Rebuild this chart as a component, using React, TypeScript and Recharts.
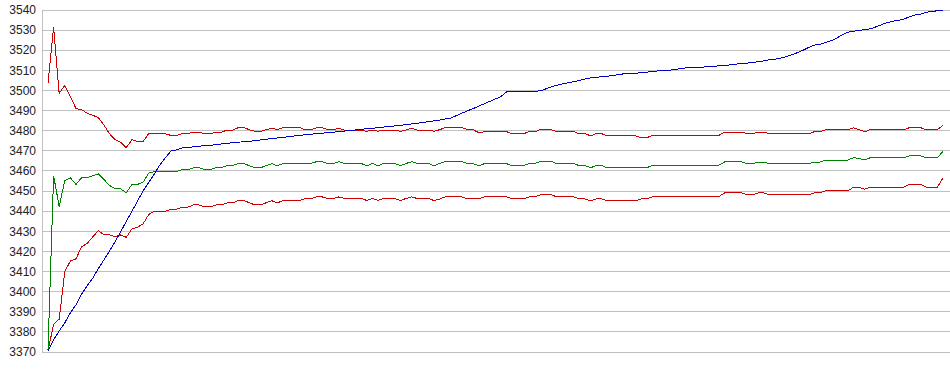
import { LineChart, Line, XAxis, YAxis, CartesianGrid } from "recharts";

// one sample every step, 161 samples
const upperBand = [
  3503.5, 3531.5, 3498.5, 3502.6, 3497, 3491, 3490.5, 3488.7, 3487.7, 3486.5,
  3482.8, 3478.5, 3475.5, 3474.3, 3471.6, 3475.5, 3474.7, 3474.7, 3478.5, 3478.5,
  3478.5, 3478.5, 3477.6, 3477.6, 3478.5, 3478.5, 3479.3, 3479.3, 3478.5, 3478.5,
  3479.3, 3479.3, 3480.3, 3480.3, 3481.5, 3481.5, 3480.5, 3479.7, 3479.7, 3480.5,
  3481.3, 3480.5, 3481.5, 3481.5, 3481.5, 3481.5, 3480.5, 3480.5, 3481.5, 3481.5,
  3480.5, 3480.5, 3481.3, 3480.3, 3480.3, 3480.3, 3480.3, 3479.7, 3480.3, 3479.7,
  3480.3, 3480.3, 3480.3, 3479.7, 3480.3, 3481.3, 3480.3, 3480.3, 3480.3, 3479.7,
  3480.5, 3481.5, 3481.5, 3481.5, 3481.5, 3480.5, 3480.5, 3479, 3479.5, 3479.5,
  3479.5, 3479.5, 3479.5, 3478.5, 3478.5, 3478.5, 3479.5, 3479.5, 3480.5, 3480.5,
  3480.5, 3479.5, 3479.5, 3479.5, 3479.5, 3478.5, 3478.5, 3477.5, 3478.5, 3478.5,
  3477.5, 3477.5, 3477.5, 3477.5, 3477.5, 3477.5, 3476.5, 3476.5, 3477.5, 3477.5,
  3477.5, 3477.5, 3477.5, 3477.5, 3477.5, 3477.5, 3477.5, 3477.5, 3477.5, 3477.5,
  3477.8, 3479.3, 3479.3, 3479.3, 3479.3, 3478.5, 3478.5, 3479.3, 3479.3, 3478.5,
  3478.5, 3478.5, 3478.5, 3478.5, 3478.5, 3478.5, 3478.5, 3479.5, 3479.5, 3480.5,
  3480.5, 3480.5, 3480.5, 3480.5, 3481.5, 3480.5, 3479.5, 3480.5, 3480.5, 3480.5,
  3480.5, 3480.5, 3480.5, 3480.5, 3481.5, 3481.5, 3481.5, 3480.5, 3480.5, 3480.5,
  3482.7,
];

const average = [
  3371, 3457.7, 3442.3, 3455.3, 3456.6, 3453.3, 3456.6, 3456.6, 3457.6, 3458.6,
  3455.7, 3452.8, 3451.1, 3451.1, 3449.1, 3453.3, 3453.3, 3454.4, 3458.9, 3459.7,
  3459.7, 3459.7, 3459.7, 3459.7, 3460.6, 3460.6, 3461.6, 3461.6, 3460.6, 3460.6,
  3461.6, 3461.6, 3462.6, 3462.6, 3463.7, 3463.7, 3462.6, 3461.6, 3461.6, 3462.6,
  3463.6, 3462.6, 3463.7, 3463.7, 3463.7, 3463.7, 3463.7, 3463.7, 3464.6, 3464.6,
  3463.7, 3463.7, 3464.6, 3463.7, 3463.7, 3463.7, 3463.7, 3462.6, 3463.7, 3462.6,
  3463.7, 3463.7, 3463.7, 3462.6, 3463.7, 3464.6, 3463.7, 3463.7, 3463.7, 3462.6,
  3463.7, 3464.7, 3464.7, 3464.7, 3464.7, 3463.6, 3463.6, 3462.6, 3463.6, 3463.6,
  3463.6, 3463.6, 3463.6, 3462.6, 3462.6, 3462.6, 3463.6, 3463.6, 3464.7, 3464.7,
  3464.7, 3463.6, 3463.6, 3463.6, 3463.6, 3462.6, 3462.6, 3461.6, 3462.6, 3462.6,
  3461.6, 3461.6, 3461.6, 3461.6, 3461.6, 3461.6, 3461.6, 3461.6, 3462.6, 3462.6,
  3462.6, 3462.6, 3462.6, 3462.6, 3462.6, 3462.6, 3462.6, 3462.6, 3462.6, 3462.6,
  3463, 3464.5, 3464.5, 3464.5, 3464.5, 3463.6, 3463.6, 3464.4, 3464.4, 3463.6,
  3463.6, 3463.6, 3463.6, 3463.6, 3463.6, 3463.6, 3463.6, 3464.4, 3464.4, 3465.4,
  3465.4, 3465.4, 3465.4, 3465.4, 3466.6, 3466.2, 3465.5, 3466.6, 3466.6, 3466.6,
  3466.6, 3466.6, 3466.6, 3466.6, 3467.5, 3467.5, 3467.5, 3466.6, 3466.6, 3466.6,
  3469.7,
];

const lowerBand = [
  3370.5, 3383.8, 3386.3, 3410, 3415.2, 3416.3, 3422.2, 3424, 3427.2, 3430.3,
  3428.2, 3428.2, 3427.3, 3428.2, 3427, 3431.2, 3432, 3433.7, 3438.3, 3440,
  3440, 3440, 3441, 3441, 3442, 3442, 3443.1, 3443.1, 3442.1, 3442.1,
  3443.1, 3443.1, 3444.1, 3444.1, 3445.3, 3445.3, 3444.2, 3443.1, 3443.1, 3444.2,
  3445.2, 3444.1, 3445.3, 3445.3, 3445.3, 3445.3, 3446.3, 3446.3, 3447.1, 3447.1,
  3446.3, 3446.3, 3447.1, 3446.3, 3446.3, 3446.3, 3446.3, 3445.3, 3446.3, 3445.3,
  3446.3, 3446.3, 3446.3, 3445.3, 3446.3, 3447.1, 3446.3, 3446.3, 3446.3, 3445.3,
  3446, 3447.1, 3447.1, 3447.1, 3447.1, 3446.1, 3446.1, 3446.1, 3447.1, 3447.1,
  3447.1, 3447.1, 3447.1, 3446.1, 3446.1, 3446.1, 3447.1, 3447.1, 3448.1, 3448.1,
  3448.1, 3447.1, 3447.1, 3447.1, 3447.1, 3446.1, 3446.1, 3445.1, 3446.1, 3446.1,
  3445.1, 3445.1, 3445.1, 3445.1, 3445.1, 3445.1, 3446.1, 3446.1, 3447.1, 3447.1,
  3447.1, 3447.1, 3447.1, 3447.1, 3447.1, 3447.1, 3447.1, 3447.1, 3447.1, 3447.1,
  3447.4, 3449.1, 3449.1, 3449.1, 3449.1, 3448.1, 3448.1, 3449.1, 3449.1, 3448.1,
  3448.1, 3448.1, 3448.1, 3448.1, 3448.1, 3448.1, 3448.1, 3449.1, 3449.1, 3450.1,
  3450.1, 3450.1, 3450.1, 3450.1, 3451.9, 3451.9, 3450.9, 3451.9, 3451.9, 3451.9,
  3451.9, 3451.9, 3451.9, 3451.9, 3453.3, 3453.3, 3453.3, 3451.9, 3451.9, 3451.9,
  3456.6,
];

const cumulative = [
  3370.5, 3376, 3380.5, 3384.5, 3389.5, 3393.4, 3398.7, 3403, 3406.7, 3411.4,
  3415.8, 3420.2, 3424.9, 3429.8, 3435, 3439.9, 3445, 3450.1, 3454.3, 3458.5,
  3463, 3466.6, 3469.9, 3470.5, 3471.4, 3471.7, 3472, 3472.3, 3472.6, 3472.8,
  3473, 3473.4, 3473.7, 3474.1, 3474.3, 3474.5, 3474.8, 3475, 3475.4, 3475.8,
  3476.1, 3476.4, 3476.7, 3477, 3477.4, 3477.7, 3478, 3478.3, 3478.5, 3478.8,
  3479, 3479.3, 3479.5, 3479.8, 3480.1, 3480.4, 3480.7, 3481, 3481.2, 3481.5,
  3481.8, 3482.1, 3482.4, 3482.7, 3483, 3483.4, 3483.7, 3484.1, 3484.5, 3484.9,
  3485.3, 3485.8, 3486.3, 3487.5, 3488.7, 3489.9, 3491, 3492.2, 3493.4, 3494.6,
  3495.8, 3497, 3499.3, 3499.6, 3499.6, 3499.6, 3499.6, 3499.6, 3499.8, 3500.8,
  3501.8, 3502.6, 3503.3, 3503.8, 3504.4, 3505, 3505.7, 3506.3, 3506.6, 3506.8,
  3507, 3507.5, 3507.9, 3508.3, 3508.5, 3508.6, 3508.8, 3509.1, 3509.5, 3509.7,
  3509.8, 3510, 3510.4, 3510.8, 3511.2, 3511.4, 3511.5, 3511.6, 3511.8, 3512,
  3512.3, 3512.5, 3512.7, 3513.1, 3513.4, 3513.6, 3513.9, 3514.4, 3514.7, 3515.3,
  3515.6, 3516.1, 3516.8, 3517.8, 3518.8, 3520, 3521.4, 3522.5, 3523, 3523.8,
  3524.7, 3526, 3527.7, 3528.9, 3529.5, 3529.8, 3530.3, 3530.6, 3531.6, 3532.7,
  3533.7, 3534.4, 3534.8, 3535.5, 3536.6, 3537.5, 3538, 3538.8, 3539.3, 3539.6,
  3540,
];

const yTicks = [
  3370, 3380, 3390, 3400, 3410, 3420, 3430, 3440, 3450,
  3460, 3470, 3480, 3490, 3500, 3510, 3520, 3530, 3540,
];

const data = upperBand.map((v, i) => ({
  step: i,
  upper: v,
  avg: average[i],
  lower: lowerBand[i],
  cum: cumulative[i],
}));

export default function App() {
  return (
    <div style={{ position: "absolute", left: 0, top: 0, width: 950, height: 375, background: "#fff" }}>
      <style>{`.recharts-line-curve, .recharts-cartesian-grid line, .recharts-cartesian-axis-line { shape-rendering: crispEdges; }`}</style>
      <LineChart width={950} height={375} data={data} margin={{ top: 10, right: 0, bottom: 23, left: 0 }}>
        <CartesianGrid vertical={false} stroke="#c0c0c0" />
        <XAxis dataKey="step" type="number" domain={[0, 160]} hide padding={{ left: 6, right: 7 }} />
        <YAxis
          domain={[3370, 3540]}
          ticks={yTicks}
          interval={0}
          width={42}
          axisLine={{ stroke: "#c0c0c0" }}
          tickLine={false}
          tickSize={6}
          tickMargin={0}
          tick={{ fontSize: 12, fill: "#222", fontFamily: "'Liberation Sans', Arial, sans-serif" }}
        />
        <Line dataKey="upper" type="linear" stroke="#cc0000" strokeWidth={1} dot={false} isAnimationActive={false} />
        <Line dataKey="lower" type="linear" stroke="#cc0000" strokeWidth={1} dot={false} isAnimationActive={false} />
        <Line dataKey="avg" type="linear" stroke="#008000" strokeWidth={1} dot={false} isAnimationActive={false} />
        <Line dataKey="cum" type="linear" stroke="#0000cc" strokeWidth={1} dot={false} isAnimationActive={false} />
      </LineChart>
    </div>
  );
}
